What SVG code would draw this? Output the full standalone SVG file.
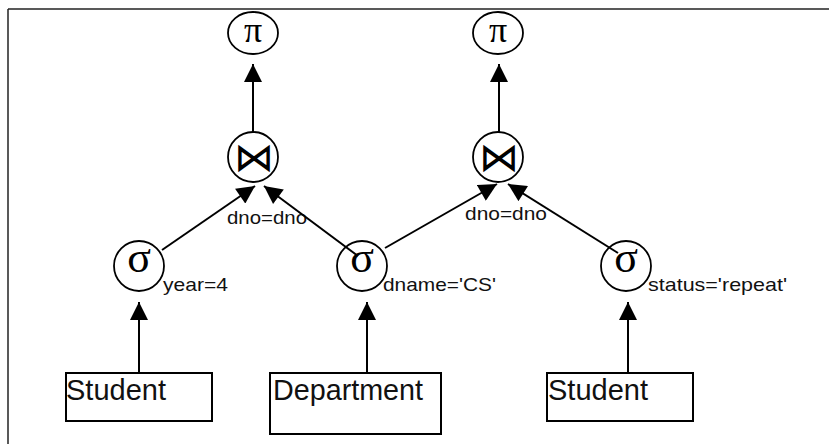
<svg xmlns="http://www.w3.org/2000/svg" width="829" height="444" viewBox="0 0 829 444">
<style>
.node{fill:#fff;stroke:#000;stroke-width:1.8}
.box{fill:#fff;stroke:#000;stroke-width:2}
.sym{font-family:"Liberation Serif","DejaVu Serif",serif;fill:#000;text-anchor:middle}
.join{font-family:"DejaVu Sans",sans-serif;font-weight:200;fill:#000;text-anchor:middle}
.lbl{font-family:"Liberation Sans",Arial,sans-serif;fill:#111;font-size:19px}
.name{font-family:"Liberation Sans",Arial,sans-serif;fill:#111;font-size:29px}
.edge{stroke:#000;stroke-width:2;fill:none;marker-end:url(#arr)}
.frame{stroke:#222;stroke-width:1.5}
</style>
<defs>
<marker id="arr" viewBox="0 0 10 10" refX="10" refY="5" markerUnits="userSpaceOnUse" markerWidth="19" markerHeight="18" orient="auto">
<path d="M0,0 L10,5 L0,10 z" fill="#000"/>
</marker>
</defs>
<rect width="829" height="444" fill="#fff"/>
<line class="frame" x1="8" y1="9" x2="829" y2="9"/>
<line class="frame" x1="8" y1="9" x2="8" y2="444"/>

<g id="labels">
<text class="lbl" x="227" y="224" textLength="80" lengthAdjust="spacingAndGlyphs">dno=dno</text>
<text class="lbl" x="465" y="220" textLength="82" lengthAdjust="spacingAndGlyphs">dno=dno</text>
</g>

<g id="connectors">
<line class="edge" x1="253" y1="132" x2="253" y2="64"/>
<line class="edge" x1="499" y1="132" x2="499" y2="64"/>
<line class="edge" x1="162" y1="250" x2="255" y2="186"/>
<line class="edge" x1="358" y1="256" x2="264" y2="186"/>
<line class="edge" x1="385" y1="248" x2="497" y2="184"/>
<line class="edge" x1="618" y1="253" x2="508" y2="184"/>
<line class="edge" x1="139" y1="373" x2="139" y2="302"/>
<line class="edge" x1="367" y1="373" x2="367" y2="302"/>
<line class="edge" x1="628" y1="373" x2="628" y2="302"/>
</g>

<g id="pi-left">
<ellipse class="node" cx="253" cy="33" rx="25" ry="21"/>
<text class="sym" x="253" y="42" font-size="36">π</text>
</g>
<g id="pi-right">
<ellipse class="node" cx="498" cy="33" rx="25" ry="21"/>
<text class="sym" x="498" y="42" font-size="36">π</text>
</g>
<g id="join-left">
<circle class="node" cx="253" cy="157" r="25"/>
<text class="join" x="254" y="171" font-size="40">⋈</text>
</g>
<g id="join-right">
<circle class="node" cx="498" cy="157" r="25"/>
<text class="join" x="499" y="171" font-size="40">⋈</text>
</g>
<g id="sigma-year">
<circle class="node" cx="139" cy="266" r="25" style="fill:none"/>
<text class="sym" x="139" y="272" font-size="44">σ</text>
<text class="lbl" x="163" y="291" textLength="65" lengthAdjust="spacingAndGlyphs">year=4</text>
</g>
<g id="sigma-dname">
<circle class="node" cx="362" cy="266" r="25" style="fill:none"/>
<text class="sym" x="362" y="272" font-size="44">σ</text>
<text class="lbl" x="383" y="291" textLength="113" lengthAdjust="spacingAndGlyphs">dname='CS'</text>
</g>
<g id="sigma-status">
<circle class="node" cx="626" cy="266" r="25" style="fill:none"/>
<text class="sym" x="626" y="272" font-size="44">σ</text>
<text class="lbl" x="648" y="291" textLength="139" lengthAdjust="spacingAndGlyphs">status='repeat'</text>
</g>
<g id="student-1">
<rect class="box" x="66" y="373" width="146" height="48"/>
<text class="name" x="66" y="400" textLength="100" lengthAdjust="spacingAndGlyphs">Student</text>
</g>
<g id="department">
<rect class="box" x="270" y="373" width="171" height="61"/>
<text class="name" x="273" y="400" textLength="150" lengthAdjust="spacingAndGlyphs">Department</text>
</g>
<g id="student-2">
<rect class="box" x="547" y="373" width="146" height="48"/>
<text class="name" x="548" y="400" textLength="100" lengthAdjust="spacingAndGlyphs">Student</text>
</g>
</svg>
